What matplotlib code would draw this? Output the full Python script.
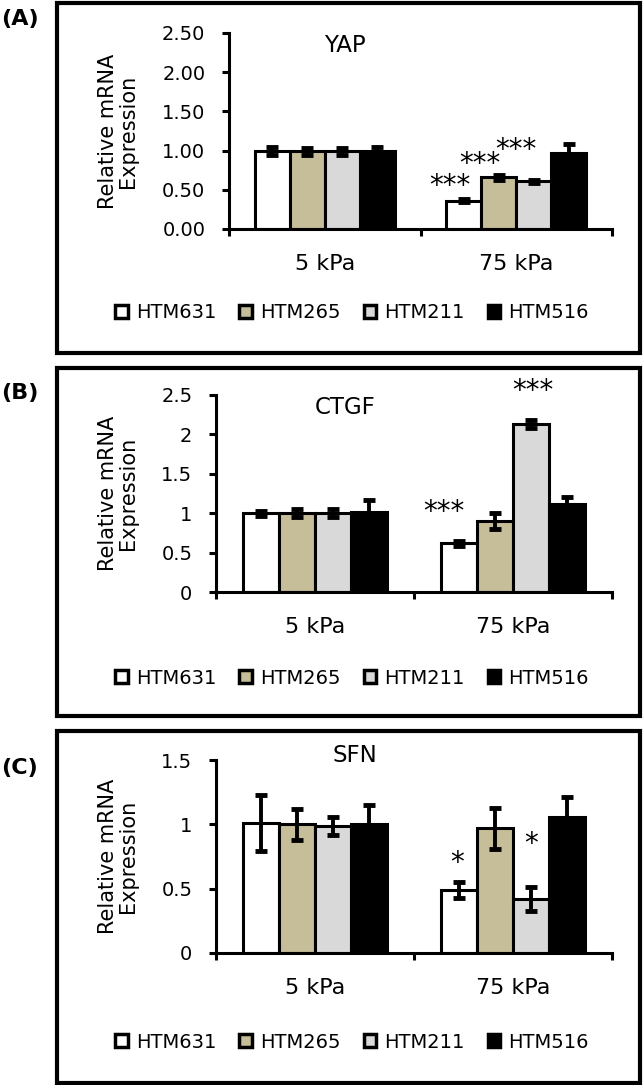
import matplotlib
matplotlib.use("Agg")
import matplotlib.pyplot as plt
import numpy as np
from matplotlib.patches import Rectangle, Patch

# ---- data ----
groups = ["5 kPa", "75 kPa"]
cells = ["HTM631", "HTM265", "HTM211", "HTM516"]
colors = ["#ffffff", "#c6be98", "#d9d9d9", "#000000"]

yap_5 = [1.00, 0.99, 0.99, 1.00]
yap_5_err = [0.05, 0.04, 0.04, 0.04]
yap_75 = [0.36, 0.66, 0.61, 0.97]
yap_75_err = [0.02, 0.03, 0.02, 0.11]

ctgf_5 = [1.00, 1.00, 1.00, 1.02]
ctgf_5_err = [0.03, 0.05, 0.05, 0.15]
ctgf_75 = [0.62, 0.90, 2.13, 1.12]
ctgf_75_err = [0.03, 0.10, 0.05, 0.09]

sfn_5 = [1.01, 1.00, 0.99, 1.00]
sfn_5_err = [0.22, 0.12, 0.07, 0.15]
sfn_75 = [0.49, 0.97, 0.42, 1.06]
sfn_75_err = [0.06, 0.16, 0.09, 0.15]

# significance marks: (text, x in category units, y)
yap_stars = [("***", 0.655, 0.55), ("***", 0.81, 0.83), ("***", 1.0, 1.01)]
ctgf_stars = [("***", 0.65, 1.01), ("***", 1.10, 2.55)]
sfn_stars = [("*", 0.72, 0.70), ("*", 1.09, 0.85)]

W, H = 644, 1085
FONT = "DejaVu Sans"
plt.rcParams.update({"font.family": FONT, "font.size": 14})

fig = plt.figure(figsize=(W / 100, H / 100), dpi=100)
fig.patch.set_facecolor("white")


def fx(x):
    return x / W


def fy(y):
    return 1 - y / H


panels = [
    dict(label="(A)", lab_y=19, frame=(3, 353), ax=(229, 33, 612, 229), title="YAP", title_xy=(345, 45),
         v5=yap_5, e5=yap_5_err, v75=yap_75, e75=yap_75_err, ymax=2.5, fmt="{:.2f}", stars=yap_stars,
         legend_y=313),
    dict(label="(B)", lab_y=393, frame=(368, 716), ax=(216, 395, 612, 592), title="CTGF", title_xy=(345, 408),
         v5=ctgf_5, e5=ctgf_5_err, v75=ctgf_75, e75=ctgf_75_err, ymax=2.5, fmt="{:g}", stars=ctgf_stars,
         legend_y=678),
    dict(label="(C)", lab_y=768, frame=(731, 1083), ax=(216, 760, 612, 953), title="SFN", title_xy=(355, 755),
         v5=sfn_5, e5=sfn_5_err, v75=sfn_75, e75=sfn_75_err, ymax=1.5, fmt="{:g}", stars=sfn_stars,
         legend_y=1042),
]

BW = 0.183
LW = 2.2

for p in panels:
    # outer frame
    top, bot = p["frame"]
    fig.add_artist(Rectangle((fx(57), fy(bot)), fx(640) - fx(57), fy(top) - fy(bot),
                             transform=fig.transFigure, fill=False, lw=3, ec="black"))
    fig.text(fx(1), fy(p["lab_y"]), p["label"], ha="left", va="center", fontsize=16, fontweight="bold")

    l, t, r, b = p["ax"]
    ax = fig.add_axes([fx(l), fy(b), fx(r) - fx(l), fy(t) - fy(b)])
    x = np.arange(len(groups))
    vals = np.array([p["v5"], p["v75"]])
    errs = np.array([p["e5"], p["e75"]])
    for i, name in enumerate(cells):
        xi = x + (i - 1.5) * BW
        ax.bar(xi, vals[:, i], width=BW, color=colors[i], edgecolor="black", linewidth=LW, zorder=2)
        ax.errorbar(xi, vals[:, i], yerr=errs[:, i], fmt="none", ecolor="black",
                    elinewidth=2.8, capsize=4.5, capthick=3.5, zorder=3)
    for txt, sx, sy in p["stars"]:
        ax.text(sx, sy, txt, ha="center", va="center", fontsize=20, clip_on=False)

    ax.set_xlim(-0.5, 1.5)
    ax.set_ylim(0, p["ymax"])
    yt = np.arange(0, p["ymax"] + 0.01, 0.5)
    ax.set_yticks(yt)
    ax.set_yticklabels([p["fmt"].format(v) for v in yt])
    ax.set_xticks(x)
    ax.set_xticklabels(groups)
    ax.set_xticks([-0.5, 0.5, 1.5], minor=True)
    ax.tick_params(axis="y", direction="out", length=5, width=LW, pad=12, labelsize=14)
    ax.tick_params(axis="x", which="major", length=0, pad=18, labelsize=16)
    ax.tick_params(axis="x", which="minor", direction="out", length=5, width=LW)
    for s in ("top", "right"):
        ax.spines[s].set_visible(False)
    for s in ("left", "bottom"):
        ax.spines[s].set_linewidth(LW)
    ax.patch.set_alpha(0)

    fig.text(fx(p["title_xy"][0]), fy(p["title_xy"][1]), p["title"], ha="center", va="center", fontsize=16.5)
    fig.text(fx(118), fy((t + b) / 2), "Relative mRNA\nExpression", rotation=90, ha="center", va="center",
             multialignment="center", fontsize=15, linespacing=1.0)

    handles = [Patch(facecolor=c, edgecolor="black", linewidth=2.5) for c in colors]
    fig.legend(handles, cells, loc="center", bbox_to_anchor=(fx(352), fy(p["legend_y"])), ncol=4,
               frameon=False, fontsize=14, handlelength=0.65, handleheight=0.65, handletextpad=0.4,
               columnspacing=1.2, borderpad=0)

fig.savefig("out.png", dpi=100, facecolor="white")
